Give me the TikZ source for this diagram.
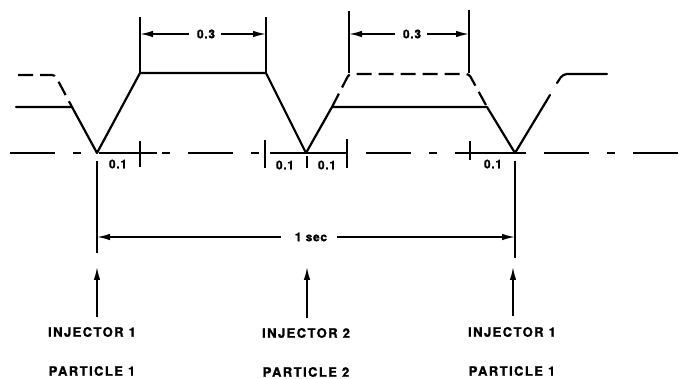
\documentclass[tikz,border=0pt]{standalone}
\usepackage{fontspec}
\setmainfont{TeX Gyre Heros}
\usetikzlibrary{arrows.meta}
\tikzset{
  wave/.style={line width=2.2pt, line join=round, line cap=round},
  wavedash/.style={line width=2.2pt, dash pattern=on 15pt off 7pt, rounded corners=3pt},
  base/.style={line width=1.6pt, dash pattern=on 45pt off 18pt on 8pt off 18pt},
  baseseg/.style={line width=1.6pt},
  dim/.style={line width=1.6pt},
  tick/.style={line width=1.5pt},
  tip/.style={-{Latex[length=13pt,width=6.5pt]}},
  lab/.style={font=\fontsize{13}{15}\selectfont\bfseries\addfontfeature{LetterSpace=11,FakeBold=1.2}, inner sep=0pt},
  small/.style={font=\fontsize{12}{14}\selectfont\bfseries\addfontfeature{LetterSpace=6,FakeBold=1.2}, inner sep=0pt}
}
\begin{document}
\begin{tikzpicture}[x=1pt,y=-1pt]
\useasboundingbox (0,0) rectangle (680,379);
% key points
\coordinate (v1) at (97,153);
\coordinate (v2) at (306,153);
\coordinate (v3) at (515,153);
% baseline
\draw[base] (10,153) -- (680,153);
\draw[baseseg] (103,153) -- (157,153);
\draw[baseseg] (270,153) -- (343,153);
\draw[baseseg] (477,153) -- (523,153);
% solid waveform
\draw[wave] (16,107) -- (72,107) -- (v1) -- (140,73) -- (266,73) -- (v2) -- (332,107) -- (487,107) -- (v3) -- (550,95);
\draw[wave, rounded corners=4pt] (557,83) -- (563,74) -- (607,74);
% dashed waveform
\draw[wavedash] (18,75) -- (55,75) -- (72,107);
\draw[wavedash] (332,107) -- (349,74) -- (469,74) -- (487,107);
% 0.3 dimensions
\coordinate (a1) at (140,73); \coordinate (a2) at (266,73);
\coordinate (b1) at (349,73); \coordinate (b2) at (469,73);
\draw[tick] (a1) -- (140,17);
\draw[tick] (a2) -- (266,17);
\draw[tick] (b1) -- (349,11);
\draw[tick] (b2) -- (469,10);
\node[small] (t1) at (206,34) {0.3};
\node[small] (t2) at (412,34) {0.3};
\coordinate (a1t) at (140,34); \coordinate (a2t) at (266,34);
\coordinate (b1t) at (349,34); \coordinate (b2t) at (469,34);
\draw[dim,tip] (t1.west) ++(-8,0) -- (a1t);
\draw[dim,tip] (t1.east) ++(6,0) -- (a2t);
\draw[dim,tip] (t2.west) ++(-8,0) -- (b1t);
\draw[dim,tip] (t2.east) ++(6,0) -- (b2t);
% 0.1 ticks
\draw[tick] (140,141) -- (140,167);
\draw[tick] (265,140) -- (265,168);
\draw[tick] (307,156) -- (307,168);
\draw[tick] (347,139) -- (347,168);
\draw[tick] (470,141) -- (470,160);
\node[small] (s1) at (118,164) {0.1};
\node[small] (s2) at (285,165) {0.1};
\node[small] (s3) at (327,165) {0.1};
\node[small] (s4) at (493,164) {0.1};
% 1 sec dimension
\draw[tick] (97,161) -- (97,253);
\draw[tick] (515,161) -- (515,258);
\node[small] (sec) at (311,237) {1 sec};
\coordinate (c1) at (97,237); \coordinate (c2) at (515,237);
\draw[dim,tip] (sec.west) ++(-14,0) -- (c1);
\draw[dim,tip] (sec.east) ++(10,0) -- (c2);
% labels
\node[lab] (inj1) at (92,332) {INJECTOR 1};
\node[lab] (par1) at (92,371) {PARTICLE 1};
\node[lab] (inj2) at (306,333) {INJECTOR 2};
\node[lab] (par2) at (306,372) {PARTICLE 2};
\node[lab] (inj3) at (512,332) {INJECTOR 1};
\node[lab] (par3) at (512,371) {PARTICLE 1};
% upward arrows
\draw[dim,tip] (97,317) -- (97,267);
\draw[dim,tip] (307,318) -- (307,267);
\draw[dim,tip] (513,316) -- (513,267);
\end{tikzpicture}
\end{document}
